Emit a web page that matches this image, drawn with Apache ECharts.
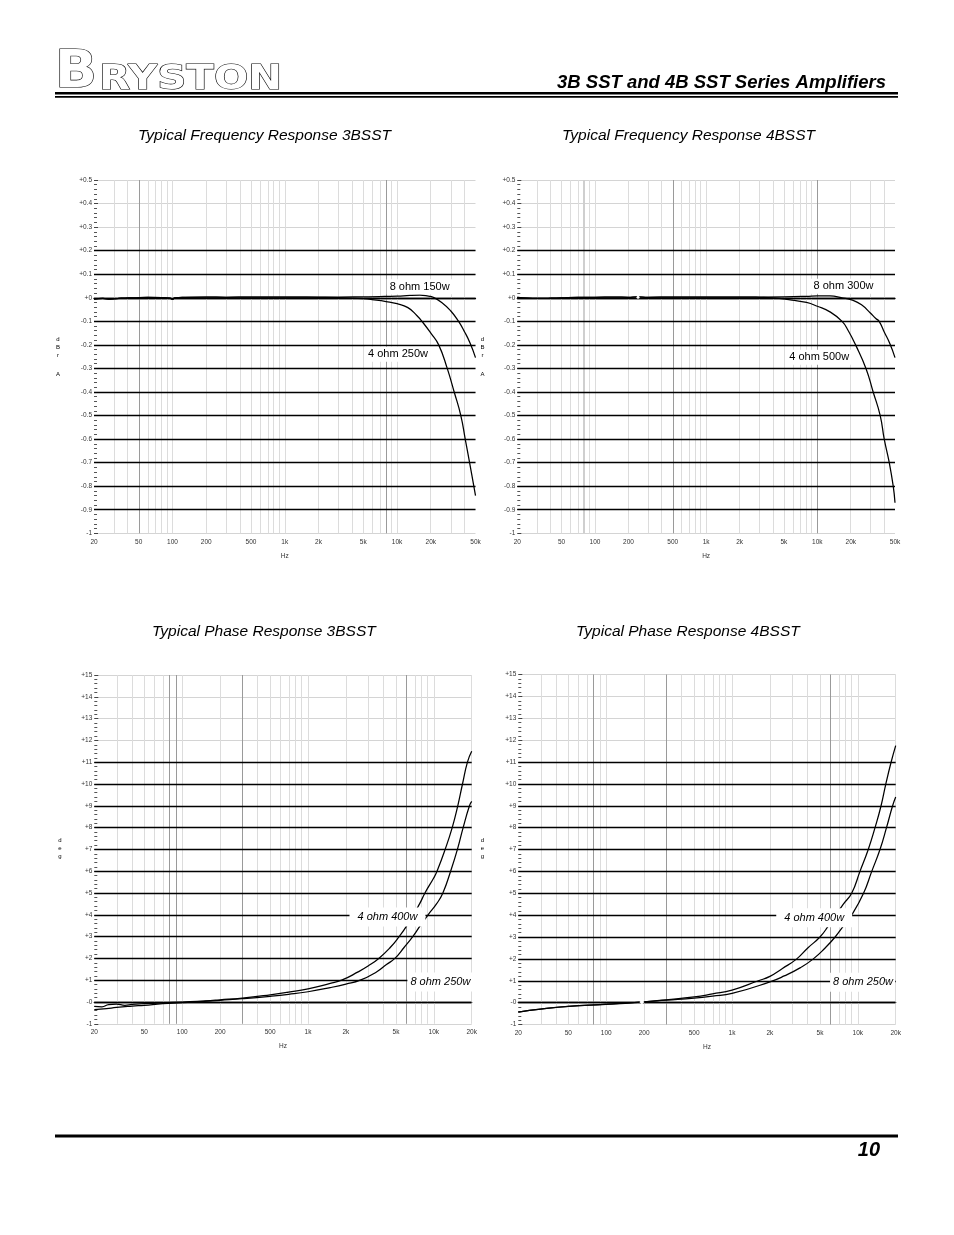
<!DOCTYPE html>
<html><head><meta charset="utf-8">
<script src="https://cdn.jsdelivr.net/npm/echarts@6/dist/echarts.min.js"></script>
<style>html,body{margin:0;padding:0;background:#fff}#c{width:954px;height:1235px}</style>
</head><body><div id="c"></div>
<script>
// ---------------- DATA ----------------
// Frequency response 3BSST (dBr)
const fr3_8_freq = [20,24,28,35,45,60,80,95,100,105,130,200,300,500,1000,2000,3000,5000,7000,10000,13000,16000,19000,21000,25000,30000,35000,40000,45000,50000];
const fr3_8_db   = [-0.006,-0.003,-0.006,-0.002,0,0.002,0.001,-0.002,-0.007,0,0.002,0.003,0.002,0.003,0.003,0.003,0.003,0.004,0.005,0.007,0.01,0.011,0.007,0.002,-0.02,-0.055,-0.097,-0.145,-0.195,-0.254];
const fr3_4_freq = [20,24,28,35,45,60,80,95,100,105,130,200,300,500,1000,2000,3000,4000,5000,6000,8000,10000,12500,15000,17000,20000,23500,28000,32300,37000,40500,44300,48300,50000];
const fr3_4_db   = [-0.006,-0.003,-0.006,-0.002,0,0.002,0.001,-0.002,-0.007,0,0.002,0.003,0.002,0.003,0.003,0.002,0.001,-0.001,-0.004,-0.008,-0.016,-0.025,-0.042,-0.075,-0.105,-0.15,-0.2,-0.3,-0.4,-0.5,-0.6,-0.7,-0.8,-0.84];
// Frequency response 4BSST (dBr)
const fr4_8_freq = [20,25,30,40,50,70,100,150,200,240,300,500,1000,2000,5000,8000,10000,13000,16700,20700,25000,30000,33600,36000,40000,45000,50000];
const fr4_8_db   = [0.002,-0.002,-0.003,-0.002,0,0.002,0.002,0.003,0.002,0.004,0.002,0.003,0.003,0.003,0.004,0.006,0.008,0.008,0,-0.01,-0.03,-0.065,-0.088,-0.1,-0.145,-0.195,-0.254];
const fr4_4_freq = [20,25,30,40,50,70,100,150,200,240,300,500,1000,2000,3000,4000,5900,8000,10000,13000,16700,19000,22100,27400,31800,36800,40000,44400,48200,50000];
const fr4_4_db   = [0.002,-0.002,-0.003,-0.002,0,0.002,0.002,0.003,0.002,0.004,0.002,0.003,0.003,0.003,0.002,0,-0.01,-0.02,-0.036,-0.06,-0.1,-0.14,-0.2,-0.3,-0.4,-0.5,-0.6,-0.7,-0.8,-0.87];
// Phase response 3BSST (deg)
const ph3_4_freq = [20,23,26,30,35,40,50,70,100,150,200,300,500,700,1000,1500,1850,2500,3000,3650,4500,5300,6100,7700,8500,10000,10600,12300,14000,15500,16900,18500,20000];
const ph3_4_deg  = [-0.2,-0.22,-0.12,-0.1,-0.15,-0.11,-0.08,-0.04,0,0.05,0.1,0.18,0.33,0.45,0.6,0.85,1.0,1.38,1.65,2.0,2.5,3.0,3.5,4.5,5.0,5.7,6.0,7.0,8.0,9.0,10.0,11.0,11.5];
const ph3_8_freq = [20,25,30,40,50,70,100,150,200,300,500,700,1000,1500,2000,2600,3500,4200,4900,5800,6800,7800,9000,10500,11800,13600,15400,17100,19200,20000];
const ph3_8_deg  = [-0.35,-0.3,-0.25,-0.19,-0.15,-0.08,-0.03,0.03,0.08,0.15,0.26,0.35,0.47,0.66,0.82,1.0,1.38,1.72,2.0,2.5,3.0,3.5,4.0,4.5,5.0,6.0,7.0,8.0,9.0,9.2];
// Phase response 4BSST (deg)
const ph4_4_freq = [20,30,50,100,200,300,500,700,1000,1620,2000,2500,3270,4000,5000,5820,7670,8930,10400,12100,13700,15300,16700,18400,20000];
const ph4_4_deg  = [-0.43,-0.3,-0.17,-0.07,0.04,0.13,0.26,0.4,0.57,1.0,1.2,1.55,2.0,2.5,3.0,3.5,4.5,5.0,6.0,7.0,8.0,9.0,10.0,11.0,11.75];
const ph4_8_freq = [20,30,50,100,200,300,500,700,1000,2000,2600,3500,4430,5500,6600,7670,8930,11100,12900,15000,16900,18900,20000];
const ph4_8_deg  = [-0.43,-0.3,-0.17,-0.08,0.03,0.11,0.21,0.3,0.42,0.95,1.22,1.6,2.0,2.5,3.0,3.5,4.0,5.0,6.0,7.0,8.0,9.0,9.4];

// Series names / annotations
const seriesNames = ['8 ohm 150w','4 ohm 250w','8 ohm 300w','4 ohm 500w','4 ohm 400w','8 ohm 250w','4 ohm 400w','8 ohm 250w'];
const chartTitles = ['Typical Frequency Response 3BSST','Typical Frequency Response 4BSST','Typical Phase Response 3BSST','Typical Phase Response 4BSST'];

// Tick labels
const xTicksFR = [20,50,100,200,500,1000,2000,5000,10000,20000,50000];
const xTickLabelsFR = ['20','50','100','200','500','1k','2k','5k','10k','20k','50k'];
const xTicksPH = [20,50,100,200,500,1000,2000,5000,10000,20000];
const xTickLabelsPH = ['20','50','100','200','500','1k','2k','5k','10k','20k'];
const yTickLabelsFR = ['-1','-0.9','-0.8','-0.7','-0.6','-0.5','-0.4','-0.3','-0.2','-0.1','+0','+0.1','+0.2','+0.3','+0.4','+0.5'];
const yTickLabelsPH = ['-1','-0','+1','+2','+3','+4','+5','+6','+7','+8','+9','+10','+11','+12','+13','+14','+15'];

// Grid line frequencies
const gridFreqsFR = [20,30,40,50,60,70,80,90,100,200,300,400,500,600,700,800,900,1000,2000,3000,4000,5000,6000,7000,8000,9000,10000,20000,30000,40000,50000];
const gridFreqsPH = [20,30,40,50,60,70,80,90,100,200,300,400,500,600,700,800,900,1000,2000,3000,4000,5000,6000,7000,8000,9000,10000,20000];
const darkFreqs = [[50,8000],[500,10000],[80,90,300,6000],[80,300,6000]];
const blackLevelsFR = [-0.9,-0.8,-0.7,-0.6,-0.5,-0.4,-0.3,-0.2,-0.1,0,0.1,0.2];
const blackLevelsPH = [0,1,2,3,4,5,6,7,8,9,10,11];

// ---------------- BUILD ----------------
const L = Math.log10;
const FONT = '"Liberation Sans", Arial, sans-serif';
const toPts = (f, v) => f.map((x, i) => [L(x), v[i]]);

const grids = [
  {left: 94, top: 180, width: 381.5, height: 353.3},
  {left: 517.3, top: 180, width: 377.7, height: 353.3},
  {left: 94.3, top: 675, width: 377.4, height: 348.8},
  {left: 518.3, top: 674.5, width: 377.4, height: 350}
];

function xAxisFor(i) {
  const isFR = i < 2;
  const ticks = isFR ? xTicksFR : xTicksPH;
  const labels = isFR ? xTickLabelsFR : xTickLabelsPH;
  return {
    type: 'value', gridIndex: i,
    min: L(20), max: L(isFR ? 50000 : 20000),
    name: 'Hz', nameLocation: 'middle', nameGap: 19,
    nameTextStyle: {fontSize: 6.5, color: '#333', fontFamily: FONT},
    axisLine: {show: true, lineStyle: {color: '#000', width: 1.3}},
    axisTick: {show: false},
    splitLine: {show: false},
    axisLabel: {
      customValues: ticks.map(L),
      fontSize: 6.5, color: '#333', fontFamily: FONT, margin: 5,
      formatter: v => { for (let k = 0; k < ticks.length; k++) if (Math.abs(L(ticks[k]) - v) < 1e-6) return labels[k]; return ''; }
    }
  };
}
function yAxisFor(i) {
  const isFR = i < 2;
  const min = -1, max = isFR ? 0.5 : 15, interval = isFR ? 0.1 : 1;
  const labels = isFR ? yTickLabelsFR : yTickLabelsPH;
  return {
    type: 'value', gridIndex: i, min, max, interval,
    axisLine: {show: false},
    axisTick: {show: true, inside: true, length: 4, lineStyle: {color: '#444'}},
    minorTick: {show: true, splitNumber: 5, length: 3, lineStyle: {color: '#555'}},
    splitLine: {show: true, lineStyle: {color: '#d4d4d4', width: 1}},
    axisLabel: {
      fontSize: 6.5, color: '#333', fontFamily: FONT, margin: 2,
      formatter: v => labels[Math.round((v - min) / interval)]
    }
  };
}

function gridMarkLine(i) {
  const isFR = i < 2;
  const freqs = isFR ? gridFreqsFR : gridFreqsPH;
  const data = [];
  freqs.forEach(f => {
    const dark = darkFreqs[i].indexOf(f) >= 0;
    const medium = (i === 1 && f === 80);
    data.push({xAxis: L(f), lineStyle: {color: dark ? '#9a9a9a' : (medium ? '#cfcfcf' : '#dcdcdc'), width: medium ? 2 : 1, type: 'solid'}});
  });
  (isFR ? blackLevelsFR : blackLevelsPH).forEach(v => {
    data.push({yAxis: v, lineStyle: {color: '#000', width: 1.3, type: 'solid'}});
  });
  return {silent: true, symbol: 'none', z: 1, animation: false, label: {show: false}, emphasis: {disabled: true}, data};
}

function labelPoint(x, y, text, italic, padding) {
  return {
    coord: [L(x), y], symbol: 'rect', symbolSize: 1, itemStyle: {color: 'rgba(0,0,0,0)'},
    label: {show: true, position: 'inside', formatter: text, color: '#000', fontSize: 11,
      fontStyle: italic ? 'italic' : 'normal', fontFamily: FONT, backgroundColor: '#fff', padding}
  };
}

function curve(i, name, f, v, extra) {
  return Object.assign({
    type: 'line', name, xAxisIndex: i, yAxisIndex: i, z: 3,
    data: toPts(f, v), showSymbol: false, symbol: 'none',
    smooth: 0.5, animation: false,
    lineStyle: {color: '#000', width: 1.25}
  }, extra || {});
}

const series = [
  curve(0, seriesNames[0], fr3_8_freq, fr3_8_db, {markLine: gridMarkLine(0),
    markPoint: {silent: true, z: 6, data: [labelPoint(15900, 0.047, seriesNames[0], false, [2, 3]), labelPoint(10200, -0.24, seriesNames[1], false, [2, 3])]}}),
  curve(0, seriesNames[1], fr3_4_freq, fr3_4_db),
  curve(1, seriesNames[2], fr4_8_freq, fr4_8_db, {markLine: gridMarkLine(1),
    markPoint: {silent: true, z: 6, data: [labelPoint(17200, 0.049, seriesNames[2], false, [2, 3]), labelPoint(10400, -0.253, seriesNames[3], false, [2, 3]),
      {coord: [L(244), 0.002], symbol: 'emptyCircle', symbolSize: 3, itemStyle: {color: 'rgba(0,0,0,0)', borderColor: '#555', borderWidth: 0.8}, label: {show: false}}]}}),
  curve(1, seriesNames[3], fr4_4_freq, fr4_4_db),
  curve(2, seriesNames[4], ph3_4_freq, ph3_4_deg, {markLine: gridMarkLine(2),
    markPoint: {silent: true, z: 6, data: [labelPoint(4280, 3.9, seriesNames[4], true, [4, 8]), labelPoint(11170, 0.92, seriesNames[5], true, [4, 2, 4, 3])]}}),
  curve(2, seriesNames[5], ph3_8_freq, ph3_8_deg),
  curve(3, seriesNames[6], ph4_4_freq, ph4_4_deg, {markLine: gridMarkLine(3),
    markPoint: {silent: true, z: 6, data: [labelPoint(4500, 3.88, seriesNames[6], true, [4, 8]), labelPoint(10900, 0.93, seriesNames[7], true, [4, 2, 4, 3]),
      {coord: [L(192), 0.03], symbol: 'emptyDiamond', symbolSize: 5, itemStyle: {color: 'rgba(0,0,0,0)', borderColor: '#333', borderWidth: 0.8}, label: {show: false}}]}}),
  curve(3, seriesNames[7], ph4_8_freq, ph4_8_deg)
];

function txt(x, y, text, font, align, extra) {
  return Object.assign({type: 'text', x, y, z: 10, silent: true,
    style: {text, font, fill: '#000', textAlign: align || 'left', textVerticalAlign: 'middle'}}, extra || {});
}
function vlabel(x, ys, letters) {
  return letters.map((ch, k) => txt(x, ys[k], ch, '6px ' + FONT, 'center'));
}

const graphic = [
  // logo
  {type: 'text', x: 55, y: 74, z: 10, silent: true, scaleX: 1.08,
    style: {text: 'B', font: 'bold 51px "DejaVu Sans"', fill: '#fff', stroke: '#000', lineWidth: 1.2, textAlign: 'left', textVerticalAlign: 'middle'}},
  {type: 'text', x: 99, y: 80.5, z: 10, silent: true, scaleX: 1.225,
    style: {text: 'RYSTON', font: 'bold 33px "DejaVu Sans"', fill: '#fff', stroke: '#000', lineWidth: 1.1, textAlign: 'left', textVerticalAlign: 'middle'}},
  txt(886, 83, '3B SST and 4B SST Series Amplifiers', 'italic bold 18.5px ' + FONT, 'right'),
  {type: 'rect', z: 10, silent: true, shape: {x: 55, y: 92, width: 843, height: 2.5}, style: {fill: '#000'}},
  {type: 'rect', z: 10, silent: true, shape: {x: 55, y: 96, width: 843, height: 1.8}, style: {fill: '#000'}},
  txt(138, 136, chartTitles[0], 'italic 15.5px ' + FONT),
  txt(562, 136, chartTitles[1], 'italic 15.5px ' + FONT),
  txt(152, 632, chartTitles[2], 'italic 15.5px ' + FONT),
  txt(576, 632, chartTitles[3], 'italic 15.5px ' + FONT),
  {type: 'rect', z: 10, silent: true, shape: {x: 55, y: 1134.5, width: 843, height: 3}, style: {fill: '#000'}},
  txt(880, 1150, '10', 'italic bold 20px ' + FONT, 'right')
].concat(
  vlabel(58, [339, 347, 355, 374], ['d', 'B', 'r', 'A']),
  vlabel(482.5, [339, 347, 355, 374], ['d', 'B', 'r', 'A']),
  vlabel(60, [840, 848, 856], ['d', 'e', 'g']),
  vlabel(482.5, [840, 848, 856], ['d', 'e', 'g'])
);

const chart = echarts.init(document.getElementById('c'), null, {renderer: 'canvas'});
chart.setOption({
  backgroundColor: '#fff',
  animation: false,
  grid: grids,
  xAxis: [0, 1, 2, 3].map(xAxisFor),
  yAxis: [0, 1, 2, 3].map(yAxisFor),
  series,
  graphic
});
</script></body></html>
